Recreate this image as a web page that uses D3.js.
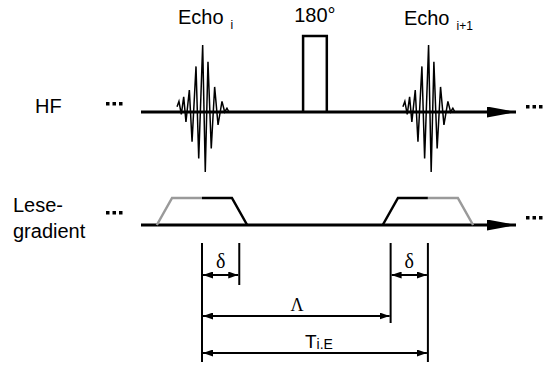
<!DOCTYPE html>
<html>
<head>
<meta charset="utf-8">
<script src="https://cdnjs.cloudflare.com/ajax/libs/d3/7.8.5/d3.min.js"></script>
<style>
  html, body { margin: 0; padding: 0; background: #fff; }
  svg { display: block; font-family: "Liberation Sans", Arial, sans-serif; }
  .serif { font-family: "Liberation Serif", "Times New Roman", serif; }
</style>
</head>
<body>
<svg id="chart" width="544" height="365"></svg>
<script>
// Zeitachse in willkürlichen Einheiten: Echo i bei 0, Echo i+1 bei 20
var echoCenters = [0, 20];
var echoLabels = ['i', 'i+1'];
// Echo-Form: Zeitversatz zum Echomittelpunkt und relative Amplitude
var echoT = [-2.21, -2.04, -1.83, -1.62, -1.42, -1.12, -0.88, -0.53, -0.29, 0.06, 0.29, 0.53, 0.82, 1.12, 1.42, 1.77, 2.01, 2.21, 2.39];
var echoA = [0.07, 0.14, -0.03, 0.20, -0.13, 0.29, -0.39, 0.60, -0.61, 0.88, -0.79, 0.66, -0.48, 0.33, -0.17, 0.14, 0, 0.05, 0];
// 180°-Puls (Start, Ende), Amplitude 1
var pulse180 = [8.95, 11.05];
// Lesegradient: Rampe an, Plateau an, Farbwechsel, Plateau aus, Rampe aus
var gradLeft = [-4, -2.65, 0, 2.65, 4];
var gradRight = [16, 17.35, 20, 22.65, 24];
// Zeitintervalle
var delta = 3.3;
var lambda = 16.7;
var tE = 20;
var timeRange = [-5.4, 27.8];

var svg = d3.select('#chart');

var x = d3.scaleLinear().domain(timeRange).range([141, 516]);
var yHF = d3.scaleLinear().domain([-1, 1]).range([188, 36]);
var yGr = d3.scaleLinear().domain([0, 1]).range([225, 198]);

// Pfeilspitzen
var defs = svg.append('defs');
defs.append('marker')
    .attr('id', 'bigArrow')
    .attr('viewBox', '0 0 29 11')
    .attr('refX', 29).attr('refY', 5.5)
    .attr('markerWidth', 29).attr('markerHeight', 11)
    .attr('markerUnits', 'userSpaceOnUse')
    .attr('orient', 'auto')
    .append('path').attr('d', 'M0,0L29,5.5L0,11Z').attr('fill', '#000');
defs.append('marker')
    .attr('id', 'smallArrow')
    .attr('viewBox', '0 0 10 7')
    .attr('refX', 10).attr('refY', 3.5)
    .attr('markerWidth', 10).attr('markerHeight', 7)
    .attr('markerUnits', 'userSpaceOnUse')
    .attr('orient', 'auto-start-reverse')
    .append('path').attr('d', 'M0,0L10,3.5L0,7Z').attr('fill', '#000');

// Achsen (HF und Lesegradient)
[yHF(0), yGr(0)].forEach(function(yy) {
  svg.append('line')
      .attr('x1', x(timeRange[0])).attr('x2', x(timeRange[1]))
      .attr('y1', yy).attr('y2', yy)
      .attr('stroke', '#000').attr('stroke-width', 3)
      .attr('marker-end', 'url(#bigArrow)');
});

// Echos
var echoLine = d3.line()
    .x(function(d) { return d.x; })
    .y(function(d) { return d.y; });

echoCenters.forEach(function(c) {
  var pts = echoT.map(function(t, i) {
    return { x: x(c + t), y: yHF(echoA[i]) };
  });
  svg.append('path')
      .attr('d', echoLine(pts))
      .attr('fill', 'none')
      .attr('stroke', '#000')
      .attr('stroke-width', 1.5)
      .attr('stroke-linejoin', 'miter');
});

// 180°-Puls
svg.append('path')
    .attr('d', echoLine([
      { x: x(pulse180[0]), y: yHF(0) },
      { x: x(pulse180[0]), y: yHF(1) },
      { x: x(pulse180[1]), y: yHF(1) },
      { x: x(pulse180[1]), y: yHF(0) }
    ]))
    .attr('fill', 'none')
    .attr('stroke', '#000')
    .attr('stroke-width', 2.5);

// Gradienten-Trapeze: grauer und schwarzer Teil
var gray = '#9a9a9a';
function trap(g, firstColor, secondColor) {
  svg.append('path')
      .attr('d', echoLine([
        { x: x(g[0]), y: yGr(0) },
        { x: x(g[1]), y: yGr(1) },
        { x: x(g[2]), y: yGr(1) }
      ]))
      .attr('fill', 'none').attr('stroke', firstColor).attr('stroke-width', 2.5);
  svg.append('path')
      .attr('d', echoLine([
        { x: x(g[2]), y: yGr(1) },
        { x: x(g[3]), y: yGr(1) },
        { x: x(g[4]), y: yGr(0) }
      ]))
      .attr('fill', 'none').attr('stroke', secondColor).attr('stroke-width', 2.5);
}
trap(gradLeft, gray, '#000');
trap(gradRight, '#000', gray);

// Punkte "..."
function dots(x0, y0) {
  for (var i = 0; i < 3; i++) {
    svg.append('rect')
        .attr('x', x0 + i * 6.5).attr('y', y0)
        .attr('width', 3.5).attr('height', 3.5)
        .attr('fill', '#000');
  }
}
dots(106, 102);
dots(106, 211);
dots(526, 105);
dots(526, 216);

// Bemaßung
var vTop = 243;
var vLines = [
  { t: 0, y2: 362 },
  { t: delta, y2: 285 },
  { t: lambda, y2: 323 },
  { t: tE, y2: 362 }
];
svg.selectAll('.vline')
    .data(vLines)
    .enter()
    .append('line')
    .attr('class', 'vline')
    .attr('x1', function(d) { return x(d.t); })
    .attr('x2', function(d) { return x(d.t); })
    .attr('y1', vTop)
    .attr('y2', function(d) { return d.y2; })
    .attr('stroke', '#000').attr('stroke-width', 2);

var dims = [
  { a: 0, b: delta, y: 275 },
  { a: tE - delta, b: tE, y: 275 },
  { a: 0, b: lambda, y: 316 },
  { a: 0, b: tE, y: 353 }
];
svg.selectAll('.dim')
    .data(dims)
    .enter()
    .append('line')
    .attr('class', 'dim')
    .attr('x1', function(d) { return x(d.a) + 1; })
    .attr('x2', function(d) { return x(d.b) - 1; })
    .attr('y1', function(d) { return d.y; })
    .attr('y2', function(d) { return d.y; })
    .attr('stroke', '#000').attr('stroke-width', 2)
    .attr('marker-start', 'url(#smallArrow)')
    .attr('marker-end', 'url(#smallArrow)');

// Beschriftungen
svg.append('text').attr('class', 'serif')
    .attr('x', x(delta / 2)).attr('y', 268)
    .attr('text-anchor', 'middle').attr('font-size', 20).text('δ');
svg.append('text').attr('class', 'serif')
    .attr('x', x(tE - delta / 2)).attr('y', 268)
    .attr('text-anchor', 'middle').attr('font-size', 20).text('δ');
svg.append('text').attr('class', 'serif')
    .attr('x', 297).attr('y', 311)
    .attr('text-anchor', 'middle').attr('font-size', 18).text('Λ');

var te = svg.append('text').attr('x', 305).attr('y', 348).attr('font-size', 19);
te.append('tspan').text('T');
te.append('tspan').attr('font-size', 14).attr('dy', 1).text('i.E');

echoCenters.forEach(function(c, i) {
  var t = svg.append('text')
      .attr('x', x(c) - 24).attr('y', 24 + i)
      .attr('font-size', 20);
  t.append('tspan').text('Echo');
  t.append('tspan').attr('font-size', 12).attr('dx', 7).attr('dy', 5).text(echoLabels[i]);
});

svg.append('text')
    .attr('x', x((pulse180[0] + pulse180[1]) / 2)).attr('y', 22)
    .attr('text-anchor', 'middle').attr('font-size', 20).text('180°');

svg.append('text').attr('x', 35).attr('y', 113).attr('font-size', 20).text('HF');
svg.append('text').attr('x', 13).attr('y', 212).attr('font-size', 20).text('Lese-');
svg.append('text').attr('x', 13).attr('y', 238).attr('font-size', 20).text('gradient');
</script>
</body>
</html>
